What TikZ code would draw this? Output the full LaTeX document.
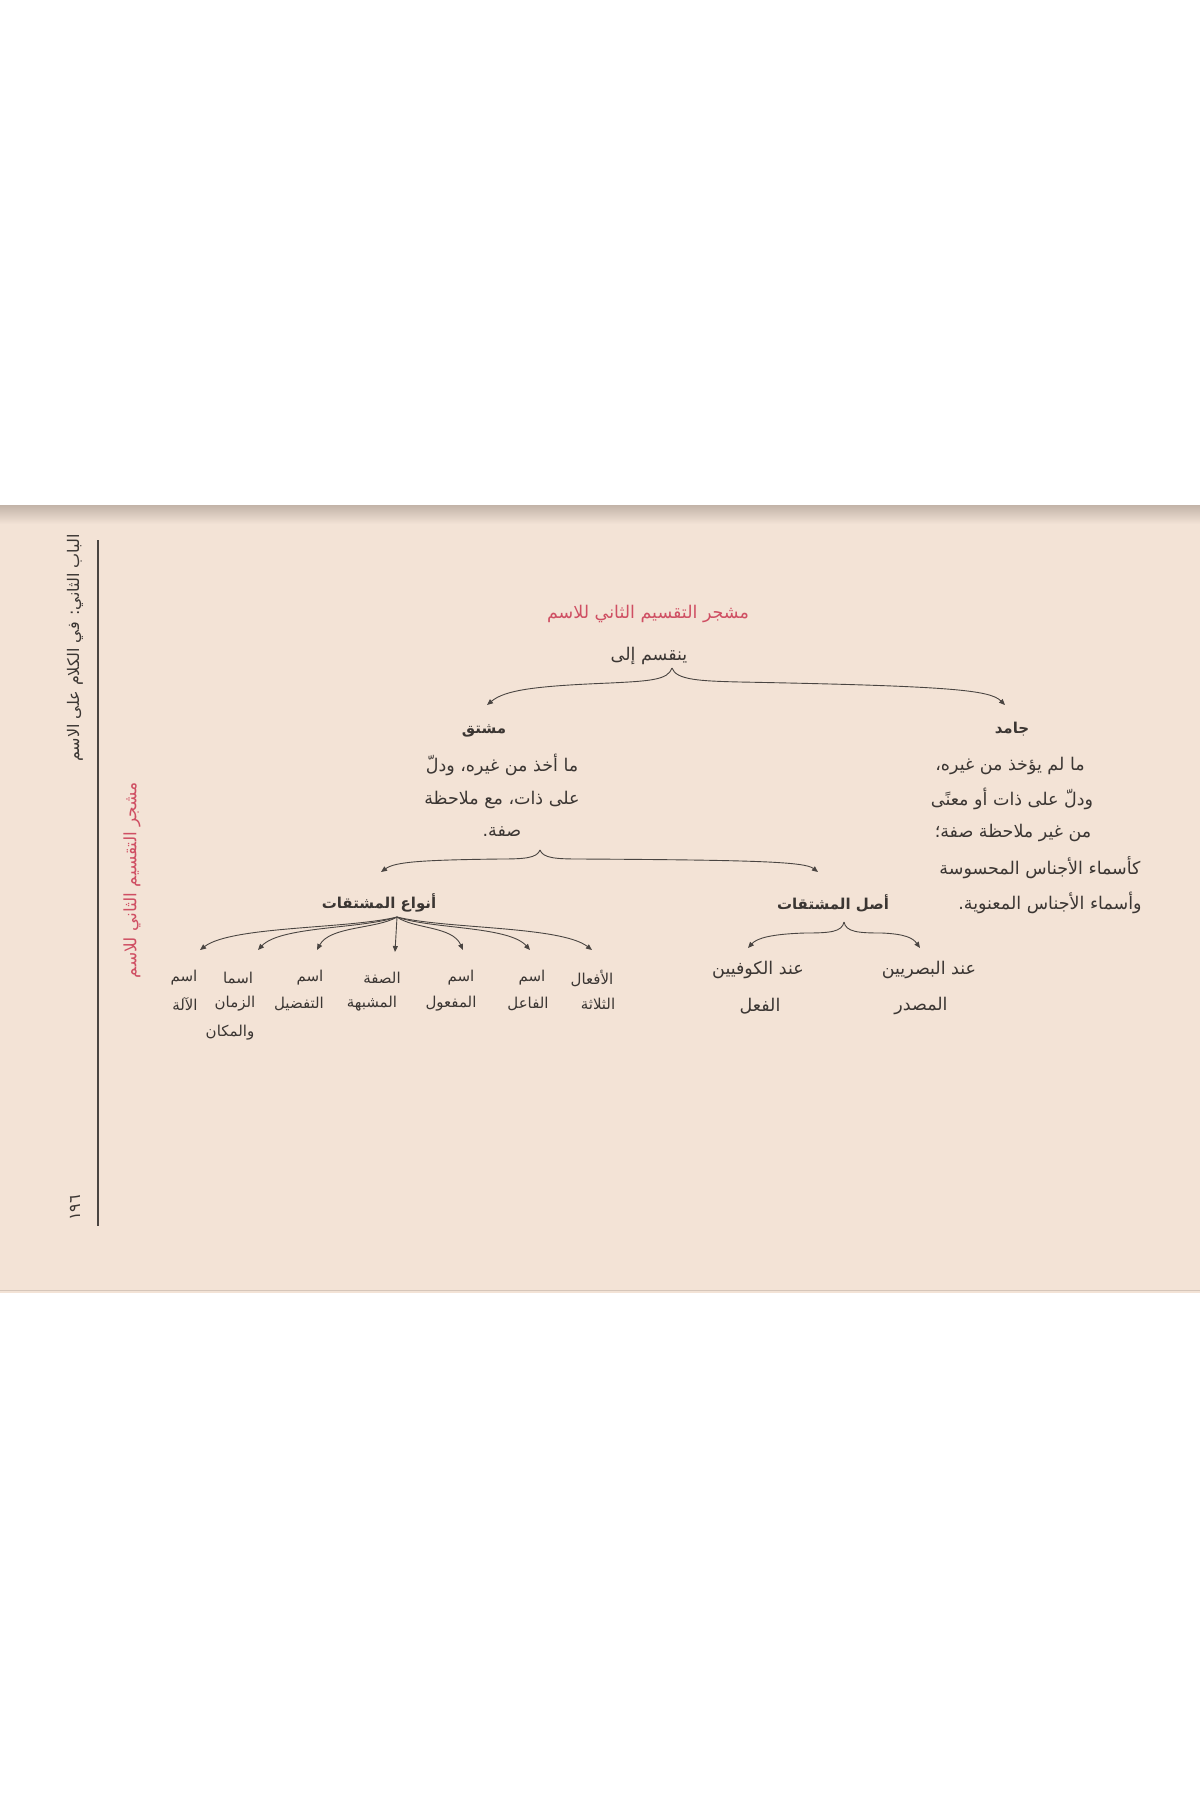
\documentclass[tikz,border=0pt]{standalone}
\usepackage{fontspec}
\usetikzlibrary{arrows.meta}
\TeXXeTstate=1
\newfontfamily\arfont[Script=Arabic]{DejaVu Sans}
\definecolor{paper}{HTML}{F3E3D6}
\definecolor{papershade}{HTML}{C2B3A8}
\definecolor{ink}{HTML}{3B3633}
\definecolor{redink}{HTML}{CF4F63}
\definecolor{lineink}{HTML}{4A4542}
\newcommand\AR[1]{\beginR #1\endR}
\begin{document}
\begin{tikzpicture}[x=1pt,y=-1pt,
  txt/.style={inner sep=0pt, text=ink, font=\arfont\fontsize{17.5}{20}\selectfont},
  sidetxt/.style={inner sep=0pt, text=ink, font=\arfont\fontsize{16}{19}\selectfont},
  boldtxt/.style={inner sep=0pt, text=ink, font=\arfont\bfseries\fontsize{15}{18}\selectfont},
  lbl/.style={inner sep=0pt, text=ink, font=\arfont\fontsize{15}{18}\selectfont},
  ttl/.style={inner sep=0pt, text=redink, font=\arfont\fontsize{17.5}{20}\selectfont},
  sidettl/.style={inner sep=0pt, text=redink, font=\arfont\fontsize{17}{20}\selectfont},
  conn/.style={draw=lineink, line width=0.9pt, -{Triangle[width=5pt,length=6pt]}},
]
\useasboundingbox (0,0) rectangle (1200,1800);
% page
\fill[white] (0,0) rectangle (1200,1800);
\fill[paper] (0,505) rectangle (1200,1293);
\shade[top color=papershade, bottom color=paper] (0,505) rectangle (1200,524);
\draw[papershade!60!paper, line width=0.8pt] (0,1290) -- (1200,1290);

% side header
\draw[lineink, line width=1.2pt] (98,540) -- (98,1226);
\node[sidetxt, rotate=90] (hdr) at (75,648) {\AR{الباب الثاني: في الكلام على الاسم}};
\node[sidettl, rotate=90] (side) at (132,880) {\AR{مشجر التقسيم الثاني للاسم}};
\node[sidetxt, rotate=90] (pgno) at (75,1208) {١٩٦};

% title
\node[ttl] (title) at (648,614) {\AR{مشجر التقسيم الثاني للاسم}};
\node[txt] (div) at (649,656) {\AR{ينقسم إلى}};

% level 1
\node[boldtxt] (mushtaq) at (484,731) {\AR{مشتق}};
\node[txt] (m1) at (502,765) {\AR{ما أخذ من غيره، ودلّ}};
\node[txt] (m2) at (502,800) {\AR{على ذات، مع ملاحظة}};
\node[txt] (m3) at (502,832) {\AR{صفة.}};

\node[boldtxt] (jamid) at (1012,729) {\AR{جامد}};
\node[txt] (j1) at (1010,766) {\AR{ما لم يؤخذ من غيره،}};
\node[txt] (j2) at (1012,799) {\AR{ودلّ على ذات أو معنًى}};
\node[txt] (j3) at (1013,833) {\AR{من غير ملاحظة صفة؛}};
\node[txt] (j4) at (1040,868) {\AR{كأسماء الأجناس المحسوسة}};
\node[txt] (j5) at (1050,903) {\AR{وأسماء الأجناس المعنوية.}};

% level 2
\node[boldtxt] (anwa) at (379,903) {\AR{أنواع المشتقات}};
\node[boldtxt] (asl) at (833,903) {\AR{أصل المشتقات}};

\node[txt] (kufa) at (758,970) {\AR{عند الكوفيين}};
\node[txt] (fil) at (760,1006) {\AR{الفعل}};
\node[txt] (basra) at (929,970) {\AR{عند البصريين}};
\node[txt] (masdar) at (921,1006) {\AR{المصدر}};

% level 3 labels
\node[lbl] (a1) at (592,978) {\AR{الأفعال}};
\node[lbl] (a1b) at (598,1004) {\AR{الثلاثة}};
\node[lbl] (a2) at (532,978) {\AR{اسم}};
\node[lbl] (a2b) at (528,1004) {\AR{الفاعل}};
\node[lbl] (a3) at (461,978) {\AR{اسم}};
\node[lbl] (a3b) at (451,1004) {\AR{المفعول}};
\node[lbl] (a4) at (382,978) {\AR{الصفة}};
\node[lbl] (a4b) at (372,1004) {\AR{المشبهة}};
\node[lbl] (a5) at (310,978) {\AR{اسم}};
\node[lbl] (a5b) at (299,1004) {\AR{التفضيل}};
\node[lbl] (a6) at (238,978) {\AR{اسما}};
\node[lbl] (a6b) at (235,1004) {\AR{الزمان}};
\node[lbl] (a6c) at (230,1033) {\AR{والمكان}};
\node[lbl] (a7) at (184,978) {\AR{اسم}};
\node[lbl] (a7b) at (185,1004) {\AR{الآلة}};

% brace points
\coordinate (p1) at (672,668);
\coordinate (t1l) at (487,705);
\coordinate (t1r) at (1005,705);
\coordinate (p2) at (540,850);
\coordinate (t2l) at (381,872);
\coordinate (t2r) at (818,872);
\coordinate (p3) at (844,922);
\coordinate (t3l) at (748,948);
\coordinate (t3r) at (920,948);
\coordinate (p4) at (397,917);
\coordinate (f1) at (592,950);
\coordinate (f2) at (530,950);
\coordinate (f3) at (463,950);
\coordinate (f4) at (395,952);
\coordinate (f5) at (317,950);
\coordinate (f6) at (258,950);
\coordinate (f7) at (200,950);

% top brace
\draw[conn] (p1) .. controls (668,680) and (650,681) .. (610,683)
  .. controls (535,686) and (505,690) .. (t1l);
\draw[conn] (p1) .. controls (676,680) and (700,681) .. (740,682)
  .. controls (950,686) and (990,690) .. (t1r);
% second brace
\draw[conn] (p2) .. controls (537,858) and (525,859) .. (500,859)
  .. controls (420,860) and (395,862) .. (t2l);
\draw[conn] (p2) .. controls (543,858) and (555,859) .. (580,859)
  .. controls (760,860) and (805,862) .. (t2r);
% third brace
\draw[conn] (p3) .. controls (842,932) and (830,933) .. (805,933)
  .. controls (772,934) and (757,938) .. (t3l);
\draw[conn] (p3) .. controls (846,932) and (858,933) .. (882,933)
  .. controls (905,934) and (913,938) .. (t3r);
% fan
\foreach \tx/\nm in {592/f1,530/f2,463/f3,317/f5,258/f6,200/f7}{
  \pgfmathsetmacro\ca{397+0.25*(\tx-397)}
  \pgfmathsetmacro\cb{\tx-0.16*(\tx-397)}
  \draw[conn] (p4) .. controls (\ca,929) and (\cb,926) .. (\nm);
}
\draw[conn] (p4) -- (f4);
\end{tikzpicture}
\end{document}
